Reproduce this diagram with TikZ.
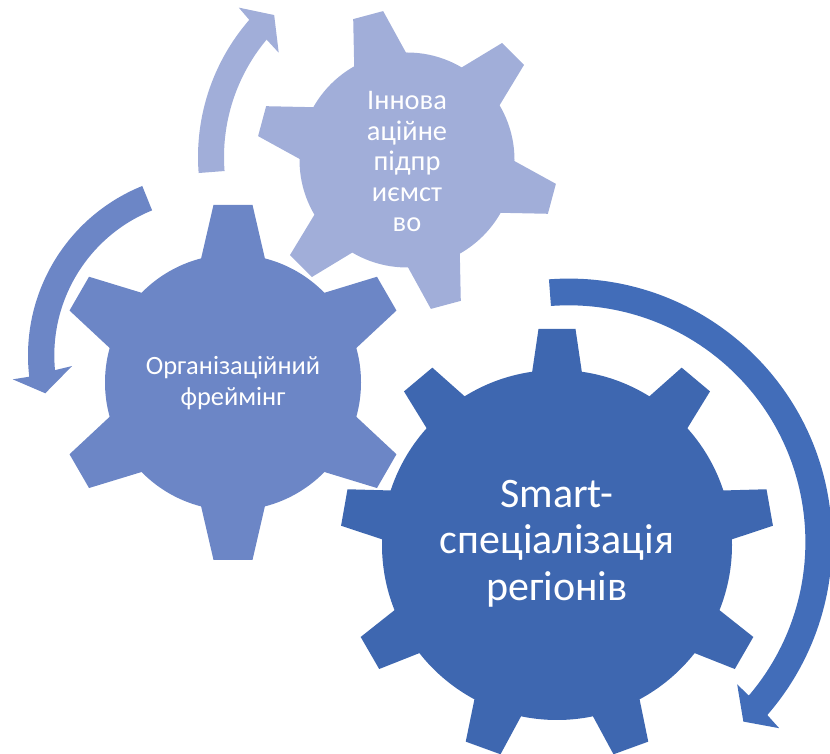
\documentclass[tikz,border=0pt]{standalone}
\usepackage{fontspec}
\setmainfont{Carlito}
\definecolor{bigcol}{HTML}{3E67B0}
\definecolor{bigarrow}{HTML}{426DB9}
\definecolor{midcol}{HTML}{6C86C6}
\definecolor{topcol}{HTML}{A1AED9}
\tikzset{geartext/.style={text=white, align=center, inner sep=0pt}}
\begin{document}
\begin{tikzpicture}[x=1pt, y=1pt]
\clip (0,0) rectangle (830,754);
% big gear
\begin{scope}[shift={(557,209)}]
\fill[bigcol] (0,0) circle[radius=175];
\foreach \a in {0,40,...,320}{\fill[bigcol, rotate=\a] (-25,172) -- (-18.5,216) -- (18.5,216) -- (25,172) -- (25,160) -- (-25,160) -- cycle;}
\end{scope}
% middle gear
\begin{scope}[shift={(233,371.6)}]
\fill[midcol] (0,0) circle[radius=128];
\foreach \a in {0,60,...,300}{\fill[midcol, rotate=\a] (-32,123.5) -- (-19.5,177.5) -- (19.5,177.5) -- (32,123.5) -- (32,110) -- (-32,110) -- cycle;}
\end{scope}
% top gear
\begin{scope}[shift={(407,594)}]
\fill[topcol] (0,0) circle[radius=107.5];
\foreach \a in {15,75,...,315}{\fill[topcol, rotate=\a] (-26.8,104) -- (-15.5,150) -- (15.5,150) -- (26.8,104) -- (26.8,90) -- (-26.8,90) -- cycle;}
\end{scope}
% arrows
\begin{scope}[shift={(568.7,212)}]
\fill[bigarrow] (94.3:263.4) arc[start angle=94.3, end angle=-41.06, radius=263.4] -- (-41.5:281) -- (-45.8:250.5) -- (-40.2:220.6) -- (-40.45:236.7) arc[start angle=-40.45, end angle=94.3, radius=236.7] -- cycle;
\end{scope}
\begin{scope}[shift={(210.7,398.6)}]
\fill[midcol] (112:182.7) arc[start angle=112, end angle=186.7, radius=182.7] -- (186.9:199.4) -- (192.9:169.7) -- (184.4:139.1) -- (185.4:156.4) arc[start angle=185.4, end angle=112, radius=156.4] -- cycle;
\end{scope}
\begin{scope}[shift={(407,597)}]
\fill[topcol] (184.4:209) arc[start angle=184.4, end angle=139, radius=209] -- (138.4:225) -- (133.1:194.4) -- (140.9:165.3) -- (140.1:183) arc[start angle=140.1, end angle=184.4, radius=183] -- cycle;
\end{scope}
\node[geartext, font=\fontsize{42}{46.5}\selectfont] (bigtext) at (557,210.5) {Smart-\\спеціалізація\\регіонів};
\node[geartext, font=\fontsize{26.4}{31}\selectfont] (midtext) at (233,371) {Організаційний\\фреймінг};
\node[geartext, font=\fontsize{28.4}{30.5}\selectfont] (toptext) at (407,592.5) {Іннова\\аційне\\підпр\\иємст\\во};
\end{tikzpicture}
\end{document}
